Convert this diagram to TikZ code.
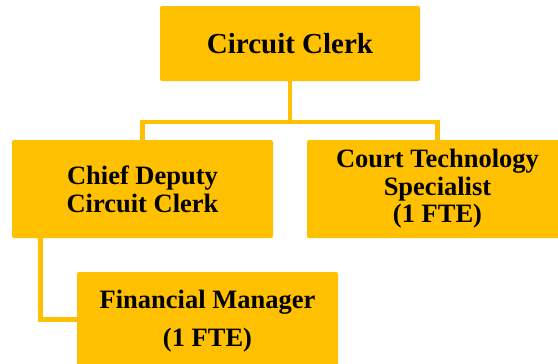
\documentclass[tikz,border=0pt]{standalone}
\usepackage{fontspec}
\setmainfont{Liberation Serif}
\definecolor{gold}{HTML}{FFC000}
\begin{document}
\begin{tikzpicture}[x=1pt,y=1pt,
  box/.style={fill=gold, draw=none, rounded corners=2pt, minimum width=261pt,
    minimum height=98pt, inner sep=0pt, align=center,
    font=\bfseries\fontsize{26.5}{28}\selectfont},
  conn/.style={draw=gold, line width=4.6pt}]
\useasboundingbox (0,0) rectangle (558,-364);
% boxes
\node[box, minimum width=260pt, minimum height=75pt,
      font=\bfseries\fontsize{29}{31}\selectfont] (clerk) at (290,-43.5) {Circuit Clerk};
\node[box] (chief) at (142.5,-189) {Chief Deputy\\Circuit Clerk};
\node[box, font=\bfseries\fontsize{26.5}{27.5}\selectfont] (tech) at (437.5,-189)
  {Court Technology\\Specialist\\(1 FTE)};
\node[box, font=\bfseries\fontsize{26.5}{38.5}\selectfont] (fin) at (207.5,-321)
  {Financial Manager\\(1 FTE)};
% connectors
\coordinate (bus) at (290,-122);
\coordinate (elbow) at (40.5,0);
\draw[conn] (clerk.south) -- (bus);
\draw[conn] (chief.north) |- (bus) -| (tech.north);
\draw[conn] (chief.south -| elbow) |- ([yshift=1.5pt]fin.west);
\end{tikzpicture}
\end{document}
